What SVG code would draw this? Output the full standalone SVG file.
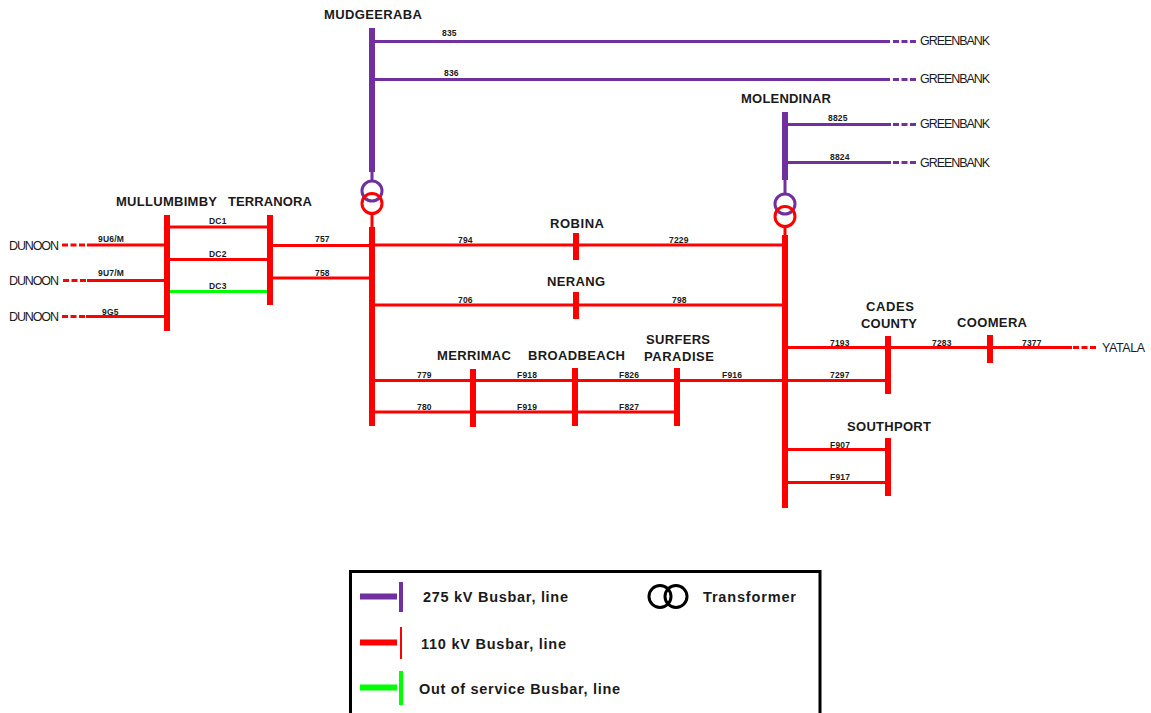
<svg xmlns="http://www.w3.org/2000/svg" width="1151" height="713" viewBox="0 0 1151 713">
<style>
text{font-family:"Liberation Sans",Arial,sans-serif;fill:#1a1a1a}
.n{font-size:13px;font-weight:bold}
.l{font-size:8.5px;font-weight:bold;letter-spacing:.2px}
.e{font-size:12.500px}
.g{font-size:14.500px;font-weight:bold}
.p{stroke:#7030a0;fill:none}
.r{stroke:#f00;fill:none}
.v{stroke:#0f0;fill:none}
.w3{stroke-width:3}
.b{stroke-width:6}
.d{stroke-width:3;stroke-dasharray:6 2.500}
.c{stroke-width:3;fill:none}
</style>
<g id="connectors">
<path class="p w3" d="M375 41.500H890M375 79.500H890M788 124.500H891M788 162.500H891M372 172V181M785 180V194"/>
<path class="p d" d="M893 41.500H916M893 79.500H916M893 124.500H916M893 162.500H916"/>
<path class="r w3" d="M87 245H165M87 280.500H165M86 316.500H165M170 227H267M170 259.500H267M273 245.500H369M273 278H369M375 245H782M375 305H782M375 380.500H885M375 412H674M788 347.500H1072M788 380.500H885M788 449.500H885M788 482.500H885M372 213V227M785 226V235"/>
<path class="r d" d="M62 245H85M63 280.500H86M62 316.500H85M1073 347.500H1096"/>
<path class="v w3" d="M170 291.500H267"/>
</g>
<g id="mudgeeraba"><path class="p b" d="M372 28V172"/><text class="n" x="324" y="19" textLength="98" lengthAdjust="spacing">MUDGEERABA</text></g>
<g id="molendinar"><path class="p b" d="M785 112V180"/><text class="n" x="741" y="103" textLength="90" lengthAdjust="spacing">MOLENDINAR</text></g>
<g id="transformer-mudgeeraba"><circle class="p c" cx="372" cy="191" r="10"/><circle class="r c" cx="372" cy="203.500" r="10"/></g>
<g id="transformer-molendinar"><circle class="p c" cx="785" cy="204" r="10"/><circle class="r c" cx="785" cy="216.500" r="10"/></g>
<g id="mullumbimby"><path class="r b" d="M167 215V331"/><text class="n" x="116" y="206" textLength="101" lengthAdjust="spacing">MULLUMBIMBY</text></g>
<g id="terranora"><path class="r b" d="M270 215V305"/><text class="n" x="228" y="206" textLength="84" lengthAdjust="spacing">TERRANORA</text></g>
<g id="bus-110-west"><path class="r b" d="M372 227V426"/></g>
<g id="bus-110-east"><path class="r b" d="M785 235V508"/></g>
<g id="robina"><path class="r b" d="M576 233V260"/><text class="n" x="550" y="228" textLength="54" lengthAdjust="spacing">ROBINA</text></g>
<g id="nerang"><path class="r b" d="M576 292V319"/><text class="n" x="547" y="286" textLength="58" lengthAdjust="spacing">NERANG</text></g>
<g id="merrimac"><path class="r b" d="M473 369V427"/><text class="n" x="437" y="360" textLength="74" lengthAdjust="spacing">MERRIMAC</text></g>
<g id="broadbeach"><path class="r b" d="M575 368V426"/><text class="n" x="528" y="360" textLength="97" lengthAdjust="spacing">BROADBEACH</text></g>
<g id="surfers-paradise"><path class="r b" d="M677 368V426"/><text class="n" x="646" y="344" textLength="64" lengthAdjust="spacing">SURFERS</text><text class="n" x="644" y="361" textLength="70" lengthAdjust="spacing">PARADISE</text></g>
<g id="cades-county"><path class="r b" d="M888 336V394"/><text class="n" x="866" y="311" textLength="48" lengthAdjust="spacing">CADES</text><text class="n" x="861" y="328" textLength="56" lengthAdjust="spacing">COUNTY</text></g>
<g id="coomera"><path class="r b" d="M990 335V363"/><text class="n" x="957" y="327" textLength="70" lengthAdjust="spacing">COOMERA</text></g>
<g id="southport"><path class="r b" d="M888 438V496"/><text class="n" x="847" y="431" textLength="84" lengthAdjust="spacing">SOUTHPORT</text></g>
<g id="line-labels">
<text class="l" x="442" y="36">835</text><text class="l" x="444" y="76">836</text><text class="l" x="828" y="121">8825</text><text class="l" x="830" y="160">8824</text>
<text class="l" x="98" y="242">9U6/M</text><text class="l" x="98" y="276">9U7/M</text><text class="l" x="102" y="315">9G5</text>
<text class="l" x="209" y="224">DC1</text><text class="l" x="209" y="257">DC2</text><text class="l" x="209" y="289">DC3</text>
<text class="l" x="315" y="242">757</text><text class="l" x="315" y="276">758</text>
<text class="l" x="458" y="243">794</text><text class="l" x="669" y="243">7229</text><text class="l" x="458" y="303">706</text><text class="l" x="672" y="303">798</text>
<text class="l" x="417" y="378">779</text><text class="l" x="417" y="410">780</text><text class="l" x="517" y="378">F918</text><text class="l" x="517" y="410">F919</text><text class="l" x="619" y="378">F826</text><text class="l" x="619" y="410">F827</text><text class="l" x="722" y="378">F916</text>
<text class="l" x="830" y="346">7193</text><text class="l" x="830" y="378">7297</text><text class="l" x="932" y="346">7283</text><text class="l" x="1022" y="346">7377</text><text class="l" x="830" y="448">F907</text><text class="l" x="830" y="480">F917</text>
</g>
<g id="endpoints">
<text class="e" x="9" y="250" textLength="50" lengthAdjust="spacing">DUNOON</text><text class="e" x="9" y="285" textLength="50" lengthAdjust="spacing">DUNOON</text><text class="e" x="9" y="321" textLength="50" lengthAdjust="spacing">DUNOON</text>
<text class="e" x="920" y="45" textLength="70" lengthAdjust="spacing">GREENBANK</text><text class="e" x="920" y="83" textLength="70" lengthAdjust="spacing">GREENBANK</text><text class="e" x="920" y="128" textLength="70" lengthAdjust="spacing">GREENBANK</text><text class="e" x="920" y="167" textLength="70" lengthAdjust="spacing">GREENBANK</text>
<text class="e" x="1102" y="352" textLength="43" lengthAdjust="spacing">YATALA</text>
</g>
<g id="legend">
<path fill="none" stroke="#000" stroke-width="3" d="M350.500 713V571.500H820V713"/>
<path class="p" style="stroke-width:6" d="M360 596.500H397"/><path class="p" style="stroke-width:4" d="M401 582V612"/>
<path class="r" style="stroke-width:6" d="M360 642.500H397"/><path class="r" style="stroke-width:2" d="M401 627V659"/>
<path class="v" style="stroke-width:6" d="M360 687.500H397"/><path class="v" style="stroke-width:4" d="M401 671V705"/>
<circle cx="660" cy="596.500" r="11" fill="none" stroke="#000" stroke-width="3"/><circle cx="676" cy="596.500" r="11" fill="none" stroke="#000" stroke-width="3"/>
<text class="g" x="423" y="601.500" textLength="145" lengthAdjust="spacing">275 kV Busbar, line</text>
<text class="g" x="421" y="648.500" textLength="145" lengthAdjust="spacing">110 kV Busbar, line</text>
<text class="g" x="419" y="693.500" textLength="201" lengthAdjust="spacing">Out of service Busbar, line</text>
<text class="g" x="703" y="601.500" textLength="93" lengthAdjust="spacing">Transformer</text>
</g>
</svg>
